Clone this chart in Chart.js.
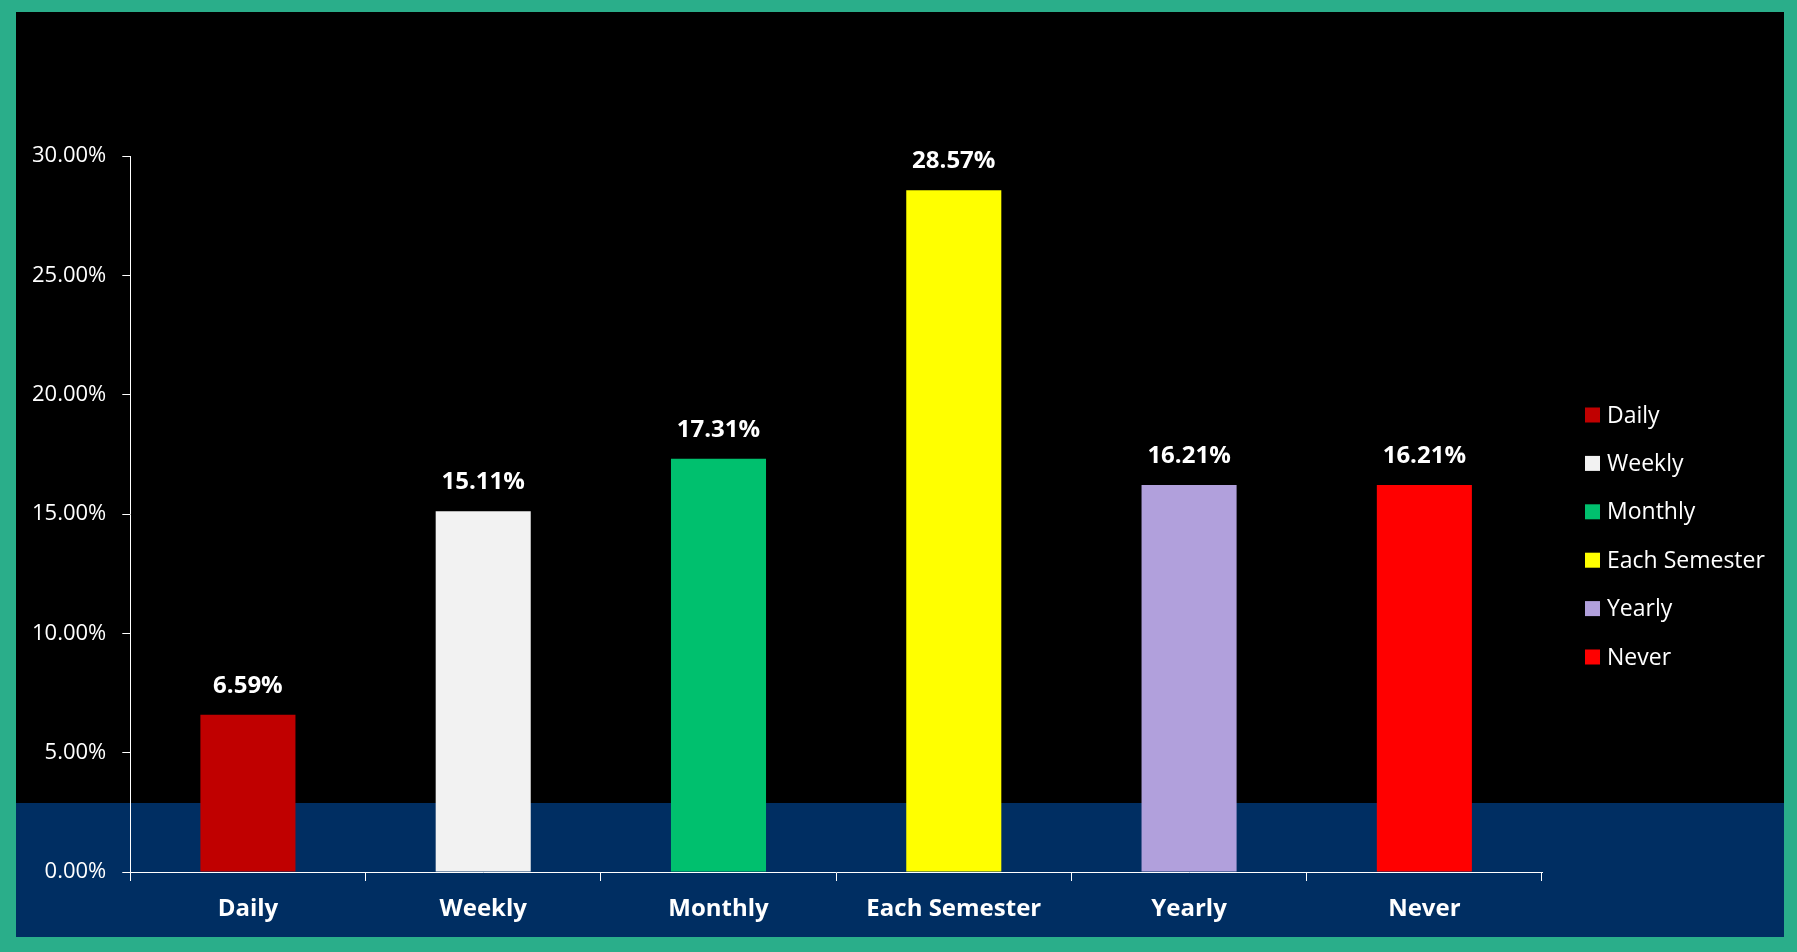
<!DOCTYPE html>
<html>
<head>
<meta charset="utf-8">
<script src="https://cdn.jsdelivr.net/npm/chart.js@4"></script>
<style>
  html, body { margin: 0; padding: 0; }
  body { width: 1797px; height: 952px; background: #2AAE8A; overflow: hidden; }
  .frame { position: absolute; left: 16px; top: 12px; width: 1768px; height: 925px; background: #000; }
  canvas { display: block; }
</style>
</head>
<body>
<div class="frame"><canvas id="freqChart" width="1768" height="925"></canvas></div>
<script>
const categories = ["Daily", "Weekly", "Monthly", "Each Semester", "Yearly", "Never"];
const shares = [6.59, 15.11, 17.31, 28.57, 16.21, 16.21];
const barColors = ["#C00000", "#F2F2F2", "#00C06E", "#FFFF00", "#B1A0DC", "#FF0000"];
const yTicks = [0, 5, 10, 15, 20, 25, 30];

const FONT = "'Open Sans', Lato, sans-serif";

// black panel with navy strip along the bottom
const backdrop = {
  id: "backdrop",
  beforeDraw(chart) {
    const { ctx, width, height } = chart;
    ctx.save();
    ctx.fillStyle = "#000000";
    ctx.fillRect(0, 0, width, height);
    ctx.fillStyle = "#002E62";
    ctx.fillRect(0, height - 134, width, 134);
    ctx.restore();
  },
};

// value labels above each bar
const valueLabels = {
  id: "valueLabels",
  afterDatasetsDraw(chart) {
    const { ctx } = chart;
    const meta = chart.getDatasetMeta(0);
    ctx.save();
    ctx.font = `bold 24px ${FONT}`;
    ctx.fillStyle = "#FFFFFF";
    ctx.textAlign = "center";
    ctx.textBaseline = "middle";
    meta.data.forEach((bar, i) => {
      ctx.fillText(shares[i].toFixed(2) + "%", bar.x, bar.y - 29);
    });
    ctx.restore();
  },
};

// one legend entry per category, on the right
const sideLegend = {
  id: "sideLegend",
  afterDraw(chart) {
    const { ctx, chartArea } = chart;
    const x = chartArea.right + 43;
    const y0 = chartArea.top + 259;
    ctx.save();
    ctx.font = `23px ${FONT}`;
    ctx.textBaseline = "middle";
    categories.forEach((label, i) => {
      const y = y0 + i * 48.4;
      ctx.fillStyle = barColors[i];
      ctx.fillRect(x, y - 7.5, 15, 15);
      ctx.fillStyle = "#FFFFFF";
      ctx.fillText(label, x + 22, y + 1);
    });
    ctx.restore();
  },
};

new Chart(document.getElementById("freqChart"), {
  type: "bar",
  data: {
    labels: categories,
    datasets: [{
      data: shares,
      backgroundColor: barColors,
      borderWidth: 0,
      barPercentage: 0.404,
      categoryPercentage: 1,
    }],
  },
  options: {
    responsive: false,
    animation: false,
    layout: { padding: { left: 0, top: 144, right: 242, bottom: 0 } },
    plugins: { legend: { display: false }, tooltip: { enabled: false } },
    scales: {
      x: {
        grid: { drawOnChartArea: false, color: "#FFFFFF", tickLength: 9, lineWidth: 1 },
        border: { color: "#FFFFFF", width: 1 },
        ticks: { color: "#FFFFFF", font: { family: FONT, size: 24, weight: "bold", lineHeight: 1 }, padding: 16, maxRotation: 0 },
      },
      y: {
        min: 0,
        max: 30,
        afterBuildTicks(scale) { scale.ticks = yTicks.map((v) => ({ value: v })); },
        grid: { drawOnChartArea: false, color: "#FFFFFF", tickLength: 8 },
        border: { color: "#FFFFFF", width: 1 },
        ticks: {
          color: "#FFFFFF",
          font: { family: FONT, size: 22 },
          padding: 16,
          callback: (v) => Number(v).toFixed(2) + "%",
        },
      },
    },
  },
  plugins: [backdrop, valueLabels, sideLegend],
});
</script>
</body>
</html>
